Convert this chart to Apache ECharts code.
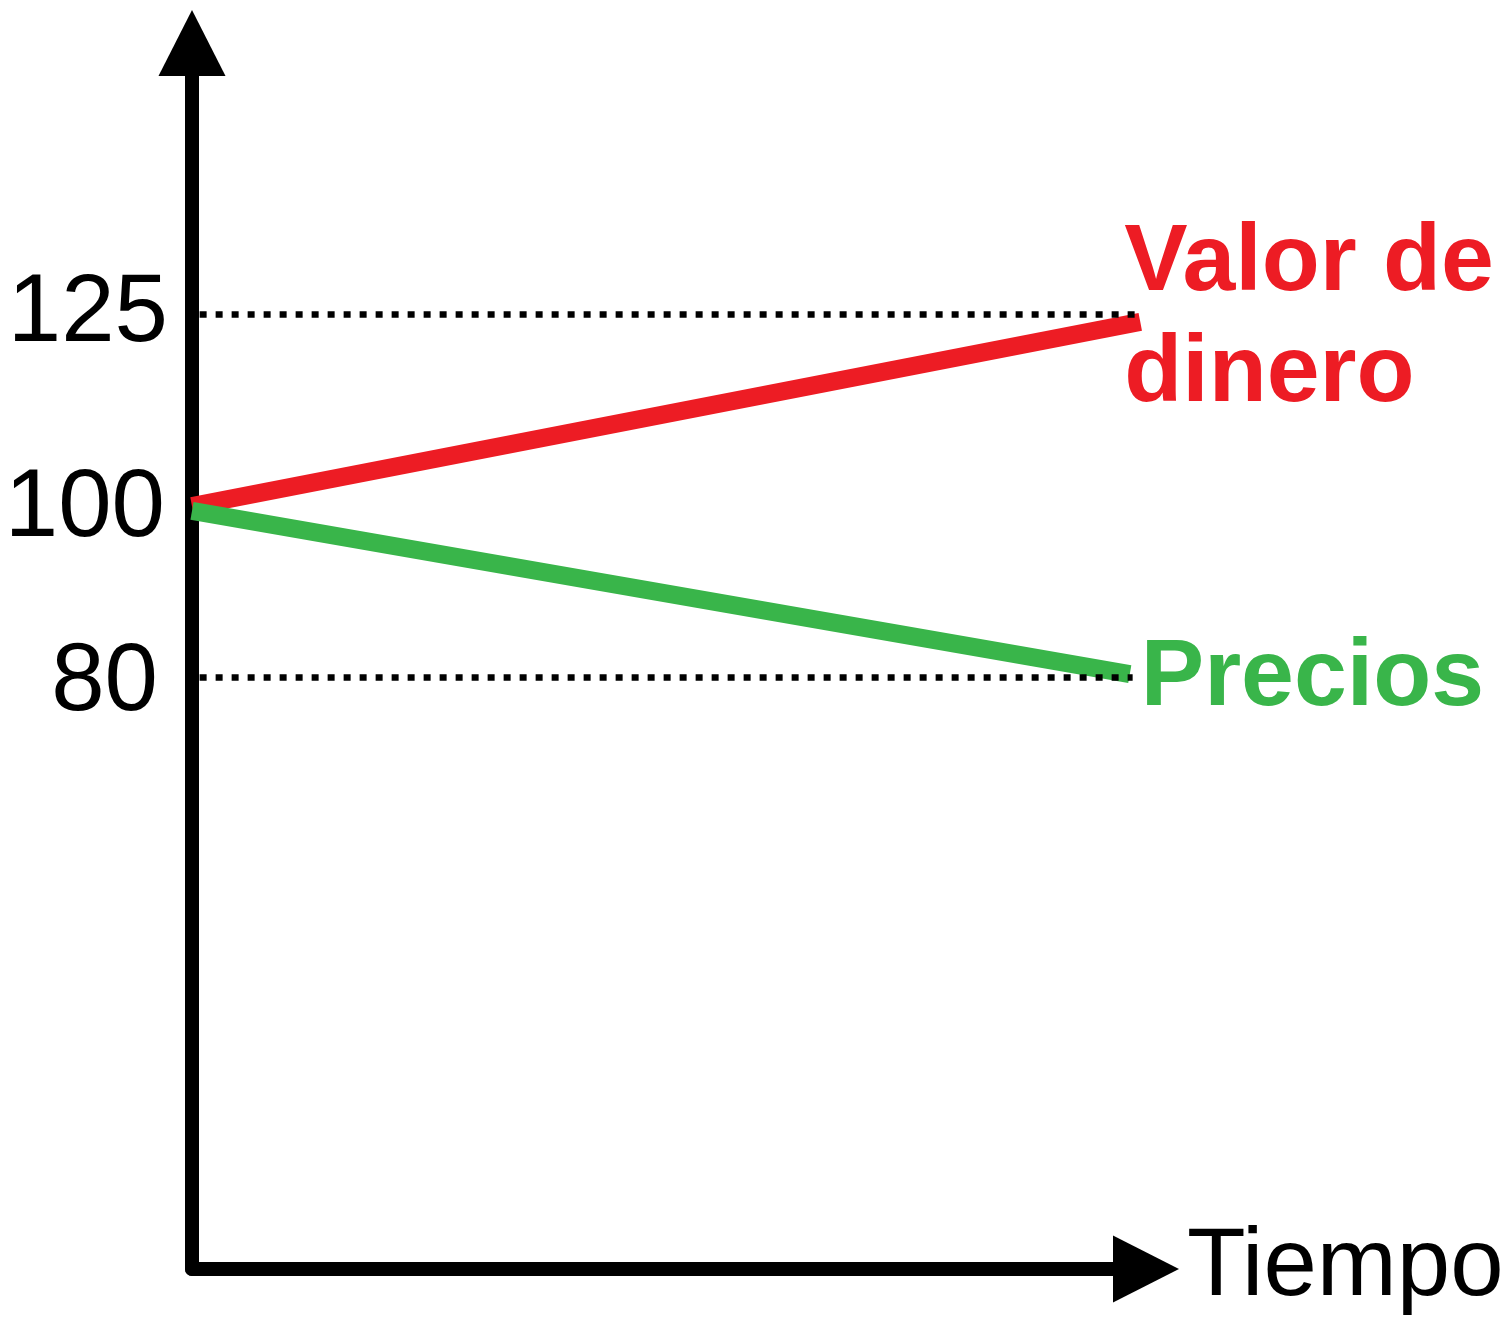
<!DOCTYPE html>
<html>
<head>
<meta charset="utf-8">
<script src="https://cdn.jsdelivr.net/npm/echarts@6/dist/echarts.min.js"></script>
<style>
html,body{margin:0;padding:0;background:#fff;}
#chart{width:1512px;height:1317px;}
</style>
</head>
<body>
<div id="chart"></div>
<script>
// ---- data ----
const timeName = 'Tiempo';
const yTickValues = [80, 100, 125];
const guideValues = [125, 80];
const guideEnds = [98.85, 98.6];
const moneyName = 'Valor de\ndinero';
const moneyTime = [0, 99.4];
const moneyValues = [101.2, 124.0];
const pricesName = 'Precios';
const pricesTime = [0, 98.3];
const pricesValues = [100.6, 80.4];

const FONT = "'Liberation Sans', Arial, Helvetica, sans-serif";
const RED = '#ED1C24';
const GREEN = '#39B54A';

const chart = echarts.init(document.getElementById('chart'), null, {renderer: 'canvas'});

// vertical (up) and right padding tweaks for tick labels
const labelShift = {125: -1, 100: 6, 80: -6};
const labelRight = {125: 0, 100: 3, 80: 10};
function richFor(v) {
  const s = labelShift[v];
  return {
    fontFamily: FONT, fontSize: 96, color: '#000',
    padding: [Math.max(0, -2 * s), labelRight[v], Math.max(0, 2 * s), 0]
  };
}

const option = {
  animation: false,
  backgroundColor: '#ffffff',
  grid: {left: 192, right: 366, top: 43, bottom: 43, containLabel: false},
  xAxis: {
    type: 'value', min: 0, max: 100,
    name: timeName, nameLocation: 'end', nameGap: 41,
    nameTextStyle: {fontFamily: FONT, fontSize: 96, color: '#000', align: 'left', verticalAlign: 'middle', padding: [0, 0, 0, 0]},
    axisLine: {onZero: false, show: true, symbol: ['none', 'triangle'], symbolSize: [67, 66], lineStyle: {color: '#000', width: 14}},
    axisTick: {show: false}, axisLabel: {show: false}, splitLine: {show: false}
  },
  yAxis: {
    type: 'value', min: 6.77, max: 158.53,
    axisLine: {onZero: false, show: true, symbol: ['none', 'triangle'], symbolSize: [67, 66], lineStyle: {color: '#000', width: 14}},
    axisTick: {show: false},
    splitLine: {show: false},
    axisLabel: {
      show: true, customValues: yTickValues, margin: 24,
      fontFamily: FONT, fontSize: 96, color: '#000',
      formatter: function (v) { return '{s' + Math.round(v) + '|' + Math.round(v) + '}'; },
      rich: {
        s125: richFor(125),
        s100: richFor(100),
        s80: richFor(80)
      }
    }
  },
  series: [
    {
      type: 'line', name: 'guides', data: [], symbol: 'none', silent: true,
      markLine: {
        silent: true, symbol: ['none', 'none'], label: {show: false},
        lineStyle: {color: '#000', width: 6.5, type: [7, 9], cap: 'butt'},
        data: guideValues.map((v, i) => [{coord: [0.8, v]}, {coord: [guideEnds[i], v]}])
      }
    },
    {
      type: 'line', name: moneyName, clip: false, symbol: 'none',
      data: moneyTime.map((t, i) => [t, moneyValues[i]]),
      lineStyle: {color: RED, width: 18, cap: 'butt'},
      endLabel: {
        show: true, formatter: moneyName, distance: 0, offset: [-16, -3],
        fontFamily: FONT, fontSize: 95, fontWeight: 'bold', color: RED,
        lineHeight: 111, align: 'left', verticalAlign: 'middle'
      }
    },
    {
      type: 'line', name: pricesName, clip: false, symbol: 'none',
      data: pricesTime.map((t, i) => [t, pricesValues[i]]),
      lineStyle: {color: GREEN, width: 18, cap: 'butt'},
      endLabel: {
        show: true, formatter: pricesName, distance: 0, offset: [11, 5],
        fontFamily: FONT, fontSize: 95, fontWeight: 'bold', color: GREEN,
        align: 'left', verticalAlign: 'middle'
      }
    }
  ]
};
chart.setOption(option);
</script>
</body>
</html>
